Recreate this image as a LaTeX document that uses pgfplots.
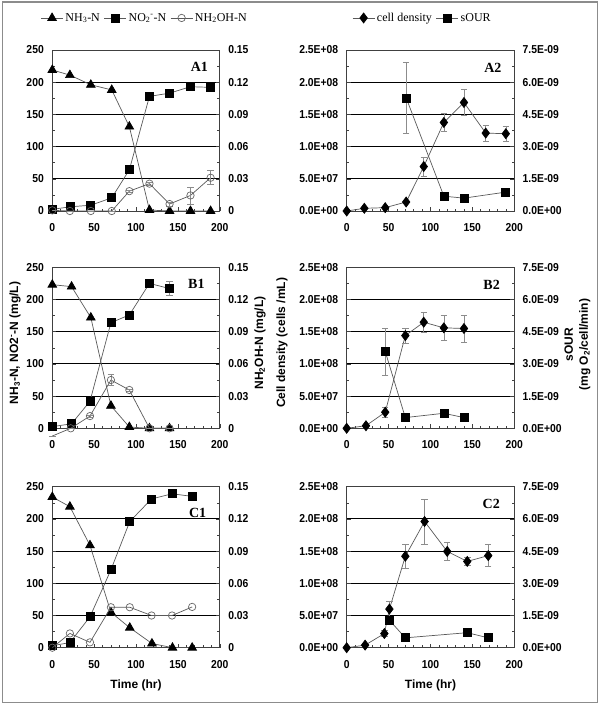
\documentclass[border=0pt]{standalone}
\usepackage{pgfplots}
\pgfplotsset{compat=1.18}
\usepackage{fontspec}
\setmainfont{Liberation Serif}
\newfontfamily\sansc{Liberation Sans}[FakeStretch=0.9]
\newfontfamily\sansl{Liberation Sans}
\newcommand\tickf{\sansc\bfseries\fontsize{11.5}{12}\selectfont}
\newcommand\labf{\sansl\bfseries\fontsize{12}{15}\selectfont}
\newcommand\legf{\rmfamily\fontsize{12}{12}\selectfont}

\pgfplotsset{
  common/.style={scale only axis, width=167.5pt, height=161pt, xmin=0, xmax=200,
    tick align=inside, major tick length=4pt, minor tick length=2.5pt,
    axis line style={black!75, line width=0.8pt},
    every tick/.style={black!75, line width=0.6pt},
    ticklabel style={font=\tickf}, scaled ticks=false, ymin=0,
    label style={font=\labf}},
  panel/.style={common, xtick={0,50,100,150,200}, xticklabels={0,50,100,150,200},
    minor x tick num=4, xtick pos=bottom, ytick pos=left,
    ymajorgrids, major grid style={black, line width=0.9pt},
    xticklabel style={yshift=-9pt}, yticklabel style={xshift=-5pt},
    minor y tick num=1},
  rpanel/.style={common, axis x line=none, axis y line*=right, ytick pos=right,
    yticklabel style={xshift=5pt}, minor y tick num=1},
  left250/.style={ymax=250, ytick={0,50,100,150,200,250}, yticklabels={0,50,100,150,200,250}},
  right015/.style={ymax=0.15, ytick={0,0.03,0.06,0.09,0.12,0.15}, yticklabels={0,0.03,0.06,0.09,0.12,0.15}},
  leftcd/.style={ymax=2.5e8, ytick={0,5e7,1e8,1.5e8,2e8,2.5e8},
    yticklabels={0.0E+00,5.0E+07,1.0E+08,1.5E+08,2.0E+08,2.5E+08}},
  rightso/.style={ymax=7.5e-9, ytick={0,1.5e-9,3e-9,4.5e-9,6e-9,7.5e-9},
    yticklabels={0.0E+00,1.5E-09,3.0E-09,4.5E-09,6.0E-09,7.5E-09}},
  ser/.style={black!65, line width=0.7pt, mark options={solid},
    error bars/error bar style={black!45, line width=0.6pt},
    error bars/error mark options={rotate=90, black!45, mark size=3.2pt, line width=0.6pt}},
  tri/.style={ser, mark=triangle*, mark size=5pt, mark options={fill=black, draw=black}},
  sqr/.style={ser, mark=square*, mark size=4pt, mark options={fill=black, draw=black}},
  cir/.style={ser, mark=o, mark size=3.7pt, mark options={draw=black!60, fill=white}},
  dia/.style={ser, mark=diamond*, mark size=5pt, mark options={fill=black, draw=black}},
  legend image code/.code={\draw[mark repeat=2,mark phase=2,#1] plot coordinates {(0pt,0pt) (11pt,0pt) (22pt,0pt)};},
  toplegend/.style={legend style={at={#1}, anchor=center, legend columns=-1, draw=none, fill=none,
    font=\legf, inner sep=0pt, /tikz/every even column/.append style={column sep=2pt}}},
}
\tikzset{plab/.style={anchor=east, font=\rmfamily\bfseries\fontsize{14}{14}\selectfont, inner sep=0pt}}

\begin{document}
\begin{tikzpicture}
\useasboundingbox (0pt,0pt) rectangle (600pt,-705pt);
\draw[black!45, line width=1.5pt] (2.5pt,-2pt) rectangle (597.5pt,-702.5pt);

%================ A1 ================
\begin{axis}[panel, left250, at={(52.3pt,-211pt)}, anchor=south west, toplegend={(0.552,1.199)}]
\addplot[tri] table[x=x,y=y] {
x y
0 219
21 211
46 196
71 188
92 131
116 1.5
140 0
165 0
189 0
};
\addlegendentry{NH\textsubscript{3}-N}
\addplot[sqr, error bars/.cd, y dir=both, y explicit] table[x=x,y=y,y error=e] {
x y e
0 2.5 0
21 6.5 0
46 9 0
71 20.5 0
92 64 2
116 178 5
140 183 3
165 193 3
189 192 3
};
\addlegendentry{NO\textsubscript{2}\textsuperscript{-}-N}
\addlegendimage{cir}
\addlegendentry{NH\textsubscript{2}OH-N}
\node[plab] at (rel axis cs:0.93,0.896) {A1};
\end{axis}
\begin{axis}[rpanel, right015, at={(52.3pt,-211pt)}, anchor=south west]
\addplot[cir, error bars/.cd, y dir=both, y explicit] table[x=x,y=y,y error=e] {
x y e
0 0.0006 0
21 0 0
46 0 0
71 0 0
92 0.0185 0.001
116 0.0255 0.0015
140 0.0065 0.002
165 0.0145 0.008
189 0.031 0.0065
};
\end{axis}

%================ A2 ================
\begin{axis}[panel, leftcd, at={(346.7pt,-211pt)}, anchor=south west, toplegend={(0.4525,1.199)}]
\addplot[dia, error bars/.cd, y dir=both, y explicit] table[x=x,y=y,y error=e] {
x y e
0 0 0
21 4.2e6 0
46 5.2e6 0
71 1.4e7 0
92 6.9e7 1.5e7
116 1.375e8 1.4e7
140 1.685e8 2.0e7
166 1.21e8 1.2e7
190 1.2e8 1.1e7
};
\addlegendentry{cell density}
\addlegendimage{sqr}
\addlegendentry{sOUR}
\node[plab] at (rel axis cs:0.925,0.888) {A2};
\end{axis}
\begin{axis}[rpanel, rightso, at={(346.7pt,-211pt)}, anchor=south west]
\addplot[sqr, error bars/.cd, y dir=both, y explicit] table[x=x,y=y,y error=e] {
x y e
71 5.27e-9 1.67e-9
116 6.9e-10 0
140 6.0e-10 0
190 8.8e-10 0
};
\end{axis}

%================ B1 ================
\begin{axis}[panel, left250, at={(52.3pt,-428.3pt)}, anchor=south west,
  ylabel={NH\textsubscript{3}-N, NO2\textsuperscript{-}-N (mg/L)},
  ylabel style={at={(axis description cs:-0.223,0.53)}, anchor=center}]
\addplot[tri] table[x=x,y=y] {
x y
0 223
23 220
46 172
70 35
92 2
116 0
140 0
};
\addplot[sqr, error bars/.cd, y dir=both, y explicit] table[x=x,y=y,y error=e] {
x y e
0 2.6 0
23 7 0
45 42 0
70 164 3
92 176 2
116 225 6
140 217 11
};
\node[plab] at (rel axis cs:0.91,0.90) {B1};
\end{axis}
\begin{axis}[rpanel, right015, at={(52.3pt,-428.3pt)}, anchor=south west, clip=false,
  ylabel={NH\textsubscript{2}OH-N (mg/L)},
  ylabel style={at={(axis description cs:1.24,0.53)}, anchor=center, rotate=0}]
\addplot[cir, mark indices={2,3,4,5,6,7}, error bars/.cd, y dir=both, y explicit] table[x=x,y=y,y error=e] {
x y e
0 -0.0072 0
22 0 0
45 0.0114 0.001
70 0.045 0.005
92 0.0357 0.001
116 0 0
140 0 0
};
\end{axis}

%================ B2 ================
\begin{axis}[panel, leftcd, at={(346.7pt,-428.3pt)}, anchor=south west,
  ylabel={Cell density (cells /mL)},
  ylabel style={at={(axis description cs:-0.386,0.53)}, anchor=center}]
\addplot[dia, error bars/.cd, y dir=both, y explicit] table[x=x,y=y,y error=e] {
x y e
0 0 0
23 4e6 0
46 2.5e7 0.8e7
70 1.44e8 1.2e7
92 1.647e8 1.6e7
116 1.56e8 1.9e7
140 1.55e8 2.1e7
};
\node[plab] at (rel axis cs:0.915,0.89) {B2};
\end{axis}
\begin{axis}[rpanel, rightso, at={(346.7pt,-428.3pt)}, anchor=south west,
  ylabel={sOUR\\(mg O\textsubscript{2}/cell/min)},
  ylabel style={at={(axis description cs:1.378,0.52)}, anchor=center, align=center, rotate=0}]
\addplot[sqr, error bars/.cd, y dir=both, y explicit] table[x=x,y=y,y error=e] {
x y e
46 3.58e-9 1.1e-9
70 5.0e-10 0
116 7.0e-10 0
140 5.0e-10 0
};
\end{axis}

%================ C1 ================
\begin{axis}[panel, left250, at={(52.3pt,-647.7pt)}, anchor=south west,
  xlabel={Time (hr)}, xlabel style={at={(axis description cs:0.5,-0.235)}, anchor=center}]
\addplot[tri] table[x=x,y=y] {
x y
0 234
21 219
45 159
70 55
92.5 31
119 6.5
143.5 0
167 0
};
\addplot[sqr, error bars/.cd, y dir=both, y explicit] table[x=x,y=y,y error=e] {
x y e
0 3 0
21 8 0
45 48 0
70 121 0
92.5 196 0
118.5 231 0
143 239 0
167 235 4
};
\node[plab] at (rel axis cs:0.92,0.837) {C1};
\end{axis}
\begin{axis}[rpanel, right015, at={(52.3pt,-647.7pt)}, anchor=south west]
\addplot[cir] table[x=x,y=y] {
x y
0 0
21 0.0133
45 0.005
70 0.0377
92.5 0.0377
118.5 0.03
143 0.03
167 0.038
};
\end{axis}

%================ C2 ================
\begin{axis}[panel, leftcd, at={(346.7pt,-647.7pt)}, anchor=south west,
  xlabel={Time (hr)}, xlabel style={at={(axis description cs:0.5,-0.235)}, anchor=center}]
\addplot[dia, error bars/.cd, y dir=both, y explicit] table[x=x,y=y,y error=e] {
x y e
0 0 0
22 4e6 0
45 2.2e7 0.5e7
51 6.0e7 1.2e7
70 1.42e8 1.9e7
93 1.96e8 3.5e7
120 1.495e8 1.4e7
144 1.34e8 0.6e7
169 1.43e8 1.7e7
};
\node[plab] at (rel axis cs:0.915,0.893) {C2};
\end{axis}
\begin{axis}[rpanel, rightso, at={(346.7pt,-647.7pt)}, anchor=south west]
\addplot[sqr, error bars/.cd, y dir=both, y explicit] table[x=x,y=y,y error=e] {
x y e
51 1.28e-9 0.2e-9
70 4.6e-10 0
144 7.0e-10 0
169 4.6e-10 0
};
\end{axis}
\end{tikzpicture}
\end{document}
